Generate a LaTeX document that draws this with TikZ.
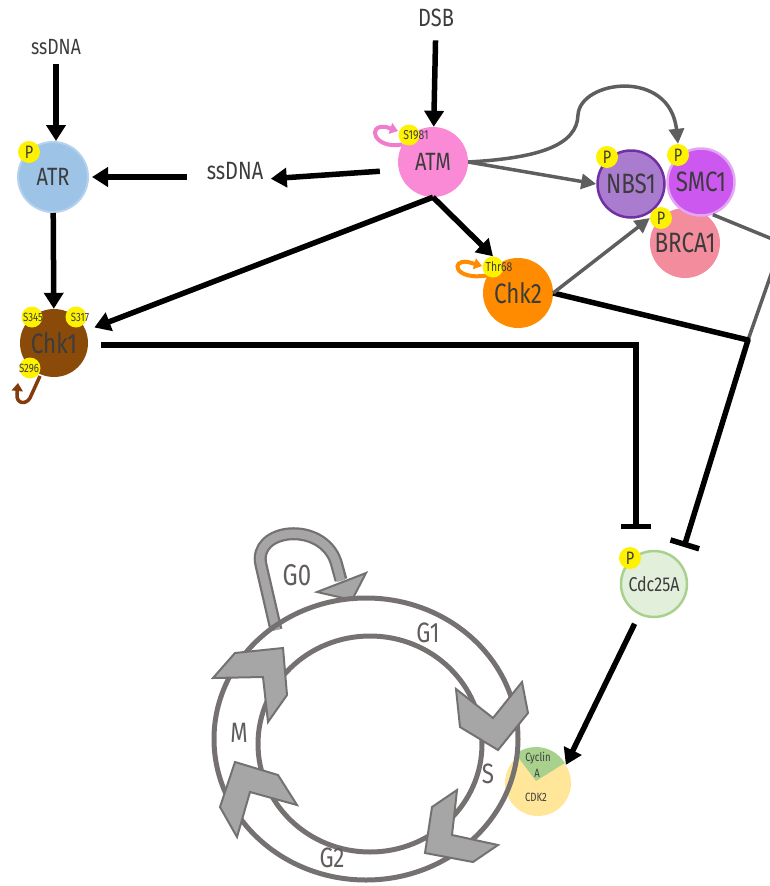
\documentclass[tikz,border=0pt]{standalone}
\usepackage{fontspec}
\setmainfont[FakeStretch=0.8]{Fira Sans}
\usetikzlibrary{arrows.meta}
\definecolor{txt}{HTML}{3C3C3C}
\definecolor{cgray}{HTML}{5E5E5E}
\definecolor{ringc}{HTML}{767171}
\definecolor{cyctxt}{HTML}{625D5D}
\definecolor{chevf}{HTML}{A6A6A6}
\definecolor{atrc}{HTML}{9DC3E6}
\definecolor{atrd}{HTML}{B4D2EE}
\definecolor{atmc}{HTML}{FA8AD6}
\definecolor{atmloop}{HTML}{F07CCF}
\definecolor{nbsc}{HTML}{A97CCF}
\definecolor{nbsd}{HTML}{7030A0}
\definecolor{smcc}{HTML}{CC58F0}
\definecolor{smcd}{HTML}{E2A6F5}
\definecolor{brcac}{HTML}{F38D9D}
\definecolor{chktwo}{HTML}{FF8C00}
\definecolor{chkone}{HTML}{8A4A0A}
\definecolor{chkloop}{HTML}{843C0C}
\definecolor{cdcc}{HTML}{E2EFDA}
\definecolor{cdcd}{HTML}{A9D18E}
\definecolor{cdkc}{HTML}{FFE699}
\definecolor{cycc}{HTML}{A9D18E}
\newcommand{\myfs}[1]{\fontsize{#1}{#1}\selectfont}
\begin{document}
\begin{tikzpicture}[x=1pt,y=-1pt,
  prot/.style={circle,minimum size=70pt,inner sep=0pt,text=txt},
  badge/.style={circle,fill=yellow,minimum size=22pt,inner sep=0pt,text=txt,font=\myfs{18}},
  sbadge/.style={circle,fill=yellow,minimum size=21pt,inner sep=0pt},
  stxt/.style={text=txt,font=\myfs{13},inner sep=0pt},
  lbl/.style={text=txt,font=\myfs{25}},
  act/.style={draw=black,line width=5.5pt,-{Triangle[length=16pt,width=19pt]}},
  inh/.style={draw=black,line width=5.5pt,-{Bar[width=30pt]}},
  gact/.style={draw=cgray,line width=3.5pt,-{Triangle[length=15pt,width=15pt]}},
  gline/.style={draw=cgray,line width=3.5pt},
  ring/.style={draw=ringc,line width=5pt},
  chev/.style={fill=chevf,draw=ringc,line width=2pt,line join=miter},
  cyclbl/.style={text=cyctxt,font=\myfs{28}},
  selfloop/.style={line width=4pt,-{Triangle[length=8pt,width=11pt]}}
]
\useasboundingbox (0,0) rectangle (770,886);

% ---- labels
\node[lbl,font=\myfs{22}] (ss1) at (56,47) {ssDNA};
\node[lbl] (ss2) at (235,171) {ssDNA};
\node[lbl] (dsb) at (436,18) {DSB};

% ---- proteins
\node[prot,fill=atrc,draw=atrd,line width=2pt,font=\myfs{25}] (atr) at (53,177) {ATR};
\node[prot,fill=atmc,font=\myfs{25}] (atm) at (433,162) {ATM};
\node[prot,fill=brcac,font=\myfs{28}] (brca) at (685,243) {BRCA1};
\node[prot,fill=nbsc,draw=nbsd,line width=2.5pt,minimum size=67pt,font=\myfs{28}] (nbs) at (631,184) {NBS1};
\node[prot,fill=smcc,draw=smcd,line width=2.5pt,minimum size=67pt,font=\myfs{28}] (smc) at (701,182) {SMC1};
\node[prot,fill=chktwo,font=\myfs{28}] (chk2) at (518,293) {Chk2};
\node[prot,fill=chkone,minimum size=68pt,font=\myfs{28}] (chk1) at (54,343) {Chk1};
\node[prot,fill=cdcc,draw=cdcd,line width=2.5pt,minimum size=66pt,font=\myfs{20}] (cdc) at (654,584) {Cdc25A};

% ---- coordinates for line junctions
\coordinate (j) at (748,340);
\coordinate (rc) at (782,243);
\coordinate (tb1) at (636,529);
\coordinate (tb2) at (684,547);

% ---- connectors (under the badges)
\draw[act,shorten <=6pt] (ss1) -- (ss1 |- atr.north);
\draw[act,shorten <=12pt,shorten >=3pt] ([xshift=-4pt,yshift=-6pt]ss2.west) -- (atr);
\draw[act,shorten <=18pt,shorten >=4pt] ([yshift=-8pt]atm.west) -- ([yshift=-8pt]ss2.east);
\draw[act,shorten <=10pt] (dsb) -- (atm);
\draw[act] (atr) -- (chk1);
\draw[act,shorten >=9pt] (atm.south) -- (chk1);
\draw[gact] (atm.east) -- (nbs.west);
\draw[gline] (smc.-70) -- (rc) -- (j);
\draw[inh,line join=round] (chk2.east) -- (j) -- (tb2);
\draw[inh,shorten <=13pt] ([yshift=-2pt]chk1.east) -| (tb1);

% ---- self phosphorylation loops
\draw[selfloop,draw=atmloop] (atm.150) .. controls (374,150) and (366,124) .. (386,127) -- (398,131);
\draw[selfloop,draw=chktwo] (chk2.150) .. controls (454,281) and (450,259) .. (468,262) -- (482,266);
\draw[selfloop,line width=3.5pt,draw=chkloop] (40,376) -- (30,398) .. controls (26,405) and (16,404) .. (17,394) -- (18,383);

% ---- badges
\node[badge] (patr) at (29,152) {P};
\node[badge] (pnbs) at (607,157) {P};
\node[badge] (psmc) at (678,155) {P};
\node[badge] (pbrca) at (661,218) {P};
\node[badge] (pcdc) at (630,558) {P};
\node[sbadge] (batm) at (409,135) {};
\node[sbadge] (bchk2) at (493,267) {};
\node[sbadge] (bs345) at (32,317) {};
\node[sbadge] (bs317) at (76,317) {};
\node[sbadge] (bs296) at (30,368) {};
\node[stxt] (tatm) at (416,135) {S1981};
\node[stxt] (tchk2) at (499,267) {Thr68};
\node[stxt,font=\myfs{12}] (ts345) at (33,317) {S345};
\node[stxt,font=\myfs{12}] (ts317) at (80,317) {S317};
\node[stxt,font=\myfs{12}] (ts296) at (29,368) {S296};

% ---- connectors ending at badges
\draw[act] (atm.south) -- (bchk2.north);
\draw[gact] (atm.east) .. controls (540,158) and (577,145) .. (578,115) .. controls (580,80) and (670,68) .. (psmc.north);
\draw[gact] (chk2.east) -- (pbrca.west);

% ---- cell cycle
\node[circle,fill=cdkc,minimum size=66pt,inner sep=0pt] (cdk) at (538,783) {};
\fill[cycc] (536,781) -- ++(-32:34) arc (-32:-127:34) -- cycle;
\node[text=txt,font=\myfs{12}] (tcyc) at (538,758) {Cyclin};
\node[text=txt,font=\myfs{12}] (ta) at (537,773) {A};
\node[text=txt,font=\myfs{12}] (tcdk) at (536,797) {CDK2};
\draw[act,shorten <=10pt] (cdc) -- (cdk.33);

% G0 band
\draw[draw=ringc,line width=13pt] (276,630) -- (261,565) .. controls (252,528) and (322,520) .. (336,562) -- (341,580);
\draw[draw=chevf,line width=8.5pt] (276,630) -- (261,565) .. controls (252,528) and (322,520) .. (336,562) -- (341,581);
\draw[chev] (317,592) -- (366,573) -- (352,600) -- cycle;

\draw[ring] (366,739) ellipse (152 and 141);
\draw[ring] (370,744) ellipse (112 and 108);

\draw[chev] (456,689) -- (493,718) -- (522,682) -- (528,713) -- (498,750) -- (460,727) -- cycle;
\draw[chev] (457,790) -- (452,835) -- (498,845) -- (473,862) -- (425,853) -- (432,807) -- cycle;
\draw[chev] (235,762) -- (278,775) -- (297,805) -- (250,792) -- (237,837) -- (220,807) -- cycle;
\draw[chev] (213,678) -- (235,653) -- (283,648) -- (287,695) -- (268,722) -- (263,677) -- cycle;

\node[cyclbl,font=\myfs{30}] (g0) at (297,575) {G0};
\node[cyclbl] (g1) at (428,633) {G1};
\node[cyclbl] (s) at (488,774) {S};
\node[cyclbl] (g2) at (332,858) {G2};
\node[cyclbl] (m) at (239,733) {M};
\end{tikzpicture}
\end{document}
